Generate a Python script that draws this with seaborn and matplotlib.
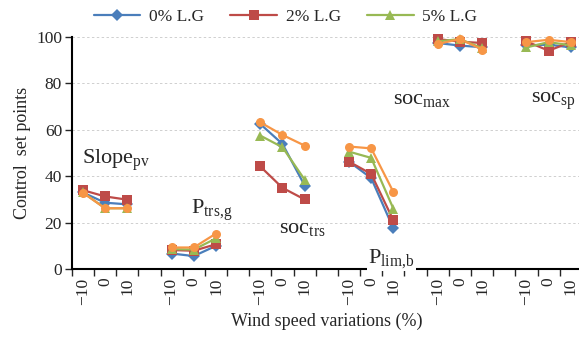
import matplotlib
matplotlib.use("Agg")
import matplotlib.pyplot as plt
from matplotlib.lines import Line2D
import numpy as np
import pandas as pd
import seaborn as sns

# data
wind = ["\u221210", "0", "10"]
groups = ["Slope", "Ptrsg", "soctrs", "Plimb", "socmax", "socsp"]
group_labels = [
    r"Slope$_{\mathrm{pv}}$",
    r"P$_{\mathrm{trs{,}g}}$",
    r"soc$_{\mathrm{trs}}$",
    r"P$_{\mathrm{lim{,}b}}$",
    r"soc$_{\mathrm{max}}$",
    r"soc$_{\mathrm{sp}}$",
]
series = ["0% L.G", "2% L.G", "5% L.G", "10% L.G"]

lg0 = [33.0, 28.6, 27.9, 6.7, 5.6, 10.0, 62.5, 53.9, 36.0,
       46.3, 39.2, 17.5, 97.4, 96.3, 95.6, 96.4, 96.7, 95.5]
lg2 = [34.0, 31.3, 29.9, 8.2, 7.9, 10.7, 44.2, 35.0, 30.0,
       46.3, 41.0, 21.0, 99.1, 98.0, 97.4, 98.1, 94.1, 97.8]
lg5 = [33.0, 26.2, 26.2, 8.6, 8.4, 13.2, 57.5, 52.5, 38.5,
       50.6, 47.9, 26.0, 98.1, 99.1, 95.2, 95.5, 97.8, 96.4]
lg10 = [32.9, 26.2, 26.2, 9.3, 9.3, 15.3, 63.2, 57.8, 53.2,
        52.8, 52.0, 33.2, 97.0, 99.1, 94.6, 97.8, 98.8, 97.8]

colors = ["#4A7EBB", "#BE4B48", "#98B954", "#F79646"]
markers = ["D", "s", "^", "o"]

# long table: one slot per wind value, a blank slot between groups
rows = []
for s, vals in zip(series, [lg0, lg2, lg5, lg10]):
    for gi, g in enumerate(groups):
        for wi, w in enumerate(wind):
            rows.append({
                "series": s,
                "group": g,
                "slot": gi * 4 + wi,
                "value": vals[gi * 3 + wi],
            })
df = pd.DataFrame(rows)

sns.set_style("white")
plt.rcParams["font.family"] = ["Liberation Serif", "DejaVu Serif"]
plt.rcParams["mathtext.fontset"] = "custom"
plt.rcParams["mathtext.rm"] = "Liberation Serif"
plt.rcParams["mathtext.it"] = "Liberation Serif:italic"

fig = plt.figure(figsize=(5.79, 3.49), dpi=100)
ax = fig.add_axes([0.124, 0.229, 0.881, 0.665])

for y in [20, 40, 60, 80, 100]:
    ax.axhline(y, color="#cfcfcf", lw=0.7, ls=(0, (2.5, 2.5)), zorder=0)

sns.lineplot(
    data=df,
    x="slot",
    y="value",
    hue="series",
    style="series",
    units="group",
    estimator=None,
    palette=dict(zip(series, colors)),
    markers=dict(zip(series, markers)),
    dashes=False,
    markersize=6.5,
    markeredgewidth=0,
    linewidth=1.6,
    legend=False,
    ax=ax,
    clip_on=False,
)

ax.set_xlim(-0.5, 22.5)
ax.set_ylim(0, 100)
ax.set_yticks([0, 20, 40, 60, 80, 100])
ax.tick_params(axis="y", labelsize=12.5, length=5, width=1, direction="out",
               left=True, pad=2)

centers = [gi * 4 + wi for gi in range(len(groups)) for wi in range(len(wind))]
ax.set_xticks(centers)
ax.set_xticklabels(wind * len(groups), rotation=90, fontsize=12.5)
ax.tick_params(axis="x", which="major", length=0, pad=6)
ax.set_xticks(np.arange(-0.5, 23, 1), minor=True)
ax.tick_params(axis="x", which="minor", length=5, width=1, direction="out",
               bottom=True)

for side in ["top", "right"]:
    ax.spines[side].set_visible(False)
for side in ["left", "bottom"]:
    ax.spines[side].set_linewidth(1.5)
    ax.spines[side].set_color("black")

ax.set_xlabel("Wind speed variations (%)", fontsize=13, labelpad=6)
ax.set_ylabel("Control  set points", fontsize=13, labelpad=4)

# group annotations
label_pos = [(1.5, 47), (5.8, 25.5), (9.9, 17.5), (13.9, 4.5), (15.3, 73), (21.2, 72.5)]
for text, (lx, ly) in zip(group_labels, label_pos):
    kw = {}
    if "lim" in text:
        kw["bbox"] = dict(facecolor="white", edgecolor="none", pad=1)
    ax.text(lx, ly, text, fontsize=16, ha="center", va="center",
            zorder=5, clip_on=False, **kw)

handles = [
    Line2D([], [], color=c, marker=m, markersize=6.5, markeredgewidth=0, lw=1.6)
    for c, m in zip(colors[:3], markers[:3])
]
fig.legend(handles, series[:3], loc="upper center", ncol=3, frameon=False,
           bbox_to_anchor=(0.493, 1.02), fontsize=12.5, handlelength=2.7,
           columnspacing=1.5, handletextpad=0.5)

fig.savefig("out.png", dpi=100)
